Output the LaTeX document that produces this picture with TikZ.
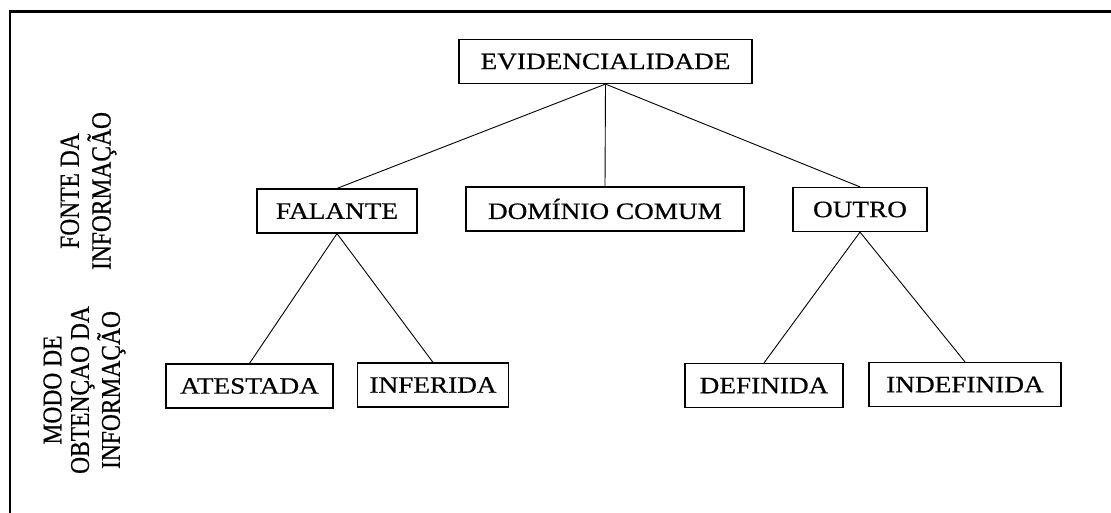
\documentclass[tikz,border=0pt]{standalone}
\usepackage{fontspec}
\setmainfont{Liberation Serif}
\newfontfamily\boxfont[FakeStretch=1.16,FakeBold=0.6]{Liberation Serif}
\newfontfamily\sidefont[FakeBold=0.6]{Liberation Serif}
\usepackage{graphicx}
\begin{document}
\begin{tikzpicture}[x=1pt,y=-1pt,
  catbox/.style={draw, line width=1.2pt, inner sep=0pt, minimum height=44pt,
    font=\boxfont\fontsize{23.5}{25}\selectfont},
  edge/.style={line width=0.9pt},
  sidelabel/.style={rotate=90, inner sep=0pt, font=\sidefont\fontsize{23.5}{24}\selectfont},
  frame/.style={line width=2.6pt}]
\useasboundingbox (0,0) rectangle (1111,513);
% frame (left and top sides)
\coordinate (fbl) at (10,520);
\coordinate (ftl) at (10,11.5);
\coordinate (ftr) at (1120,11.5);
\draw[frame] (fbl) -- (ftl) -- (ftr);
% boxes
\node[catbox, minimum width=293pt] (ev) at (605.5,61.5) {EVIDENCIALIDADE};
\node[catbox, minimum width=160pt] (fal) at (337,211) {FALANTE};
\node[catbox, minimum width=278pt] (dom) at (605,209) {DOMÍNIO COMUM};
\node[catbox, minimum width=134pt] (out) at (860,209.5) {OUTRO};
\node[catbox, minimum width=167pt] (ate) at (249.5,386) {ATESTADA};
\node[catbox, minimum width=151pt] (inf) at (433,385) {INFERIDA};
\node[catbox, minimum width=158pt] (def) at (764,385.5) {DEFINIDA};
\node[catbox, minimum width=192pt] (ind) at (965,384.5) {INDEFINIDA};
% connectors
\draw[edge] (ev.south) -- (fal.north);
\draw[edge] (ev.south) -- (dom.north);
\draw[edge] (ev.south) -- (out.north);
\draw[edge] (fal.south) -- (ate.north);
\draw[edge] (fal.south) -- (inf.north);
\draw[edge] (out.south) -- (def.north);
\draw[edge] (out.south) -- (ind.north);
% side labels
\node[sidelabel] (fonte) at (89,191) {\scalebox{1}[1.18]{\begin{tabular}{@{}c@{}}FONTE DA\\INFORMAÇÃO\end{tabular}}};
\node[sidelabel] (modo) at (85,390) {\scalebox{1}[1.15]{\begin{tabular}{@{}c@{}}MODO DE\\OBTENÇAO DA\\INFORMAÇÃO\end{tabular}}};
\end{tikzpicture}
\end{document}
